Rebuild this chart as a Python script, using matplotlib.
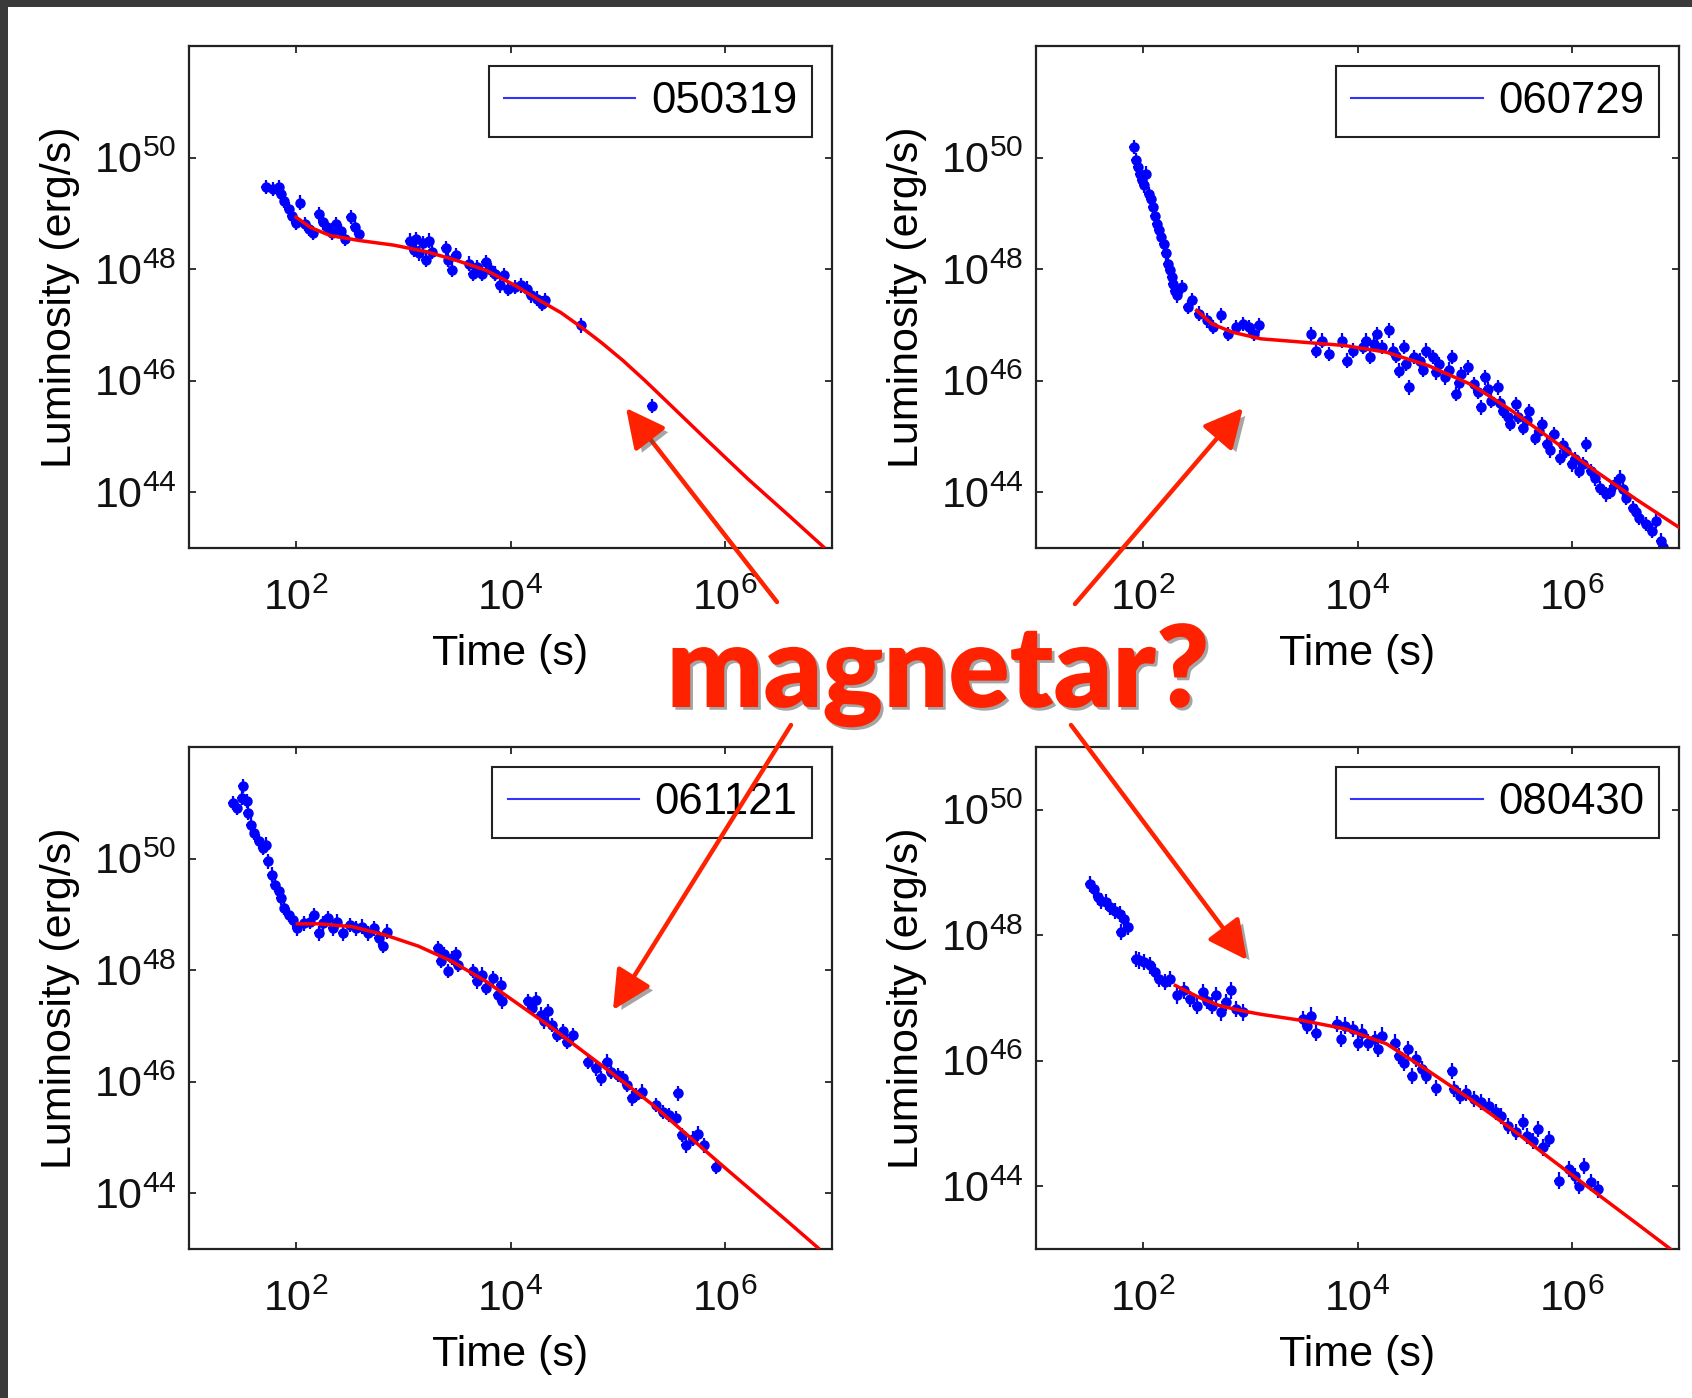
import numpy as np
import matplotlib
matplotlib.use('Agg')
import matplotlib.pyplot as plt
import matplotlib.patheffects as pe
from matplotlib.lines import Line2D
from matplotlib.patches import Rectangle

plt.rcParams['font.family'] = ['Liberation Sans', 'DejaVu Sans']
plt.rcParams['mathtext.default'] = 'regular'

# --- GRB 050319 (log10 t [s], log10 L [erg/s]) ---
logt_050319 = [1.72, 1.78, 1.84, 1.86, 1.89, 1.93, 1.96, 2.00, 2.04, 2.08, 2.12, 2.16, 2.21, 2.25,
               2.29, 2.33, 2.37, 2.42, 2.46, 2.51, 2.55, 2.59,
               3.06, 3.10, 3.12, 3.15, 3.18, 3.21, 3.24, 3.27, 3.40, 3.42, 3.45, 3.49,
               3.61, 3.65, 3.69, 3.73, 3.77, 3.82, 3.86, 3.90, 3.94, 3.98, 4.04, 4.10, 4.15,
               4.19, 4.25, 4.29, 4.32, 4.66, 5.32]
logL_050319 = [49.47, 49.44, 49.47, 49.34, 49.23, 49.08, 48.96, 48.83, 49.19, 48.81, 48.72, 48.65, 48.99, 48.84,
               48.75, 48.65, 48.81, 48.68, 48.54, 48.93, 48.75, 48.63,
               48.51, 48.34, 48.54, 48.28, 48.46, 48.16, 48.51, 48.31, 48.37, 48.16, 47.98, 48.25,
               48.10, 47.92, 48.04, 47.92, 48.13, 47.98, 47.92, 47.71, 47.89, 47.65, 47.68, 47.71, 47.65,
               47.53, 47.47, 47.38, 47.44, 46.99, 45.55]
fit_t_050319 = [2.00, 2.13, 2.32, 2.60, 2.91, 3.22, 3.49, 3.77, 4.04, 4.27, 4.47, 4.66, 4.85, 5.05, 5.25,
                5.44, 5.83, 6.22, 6.61, 6.92]
fit_L_050319 = [48.93, 48.75, 48.60, 48.51, 48.43, 48.31, 48.16, 47.98, 47.71, 47.44, 47.22, 46.96, 46.68,
                46.36, 46.01, 45.66, 44.94, 44.23, 43.56, 43.02]

# --- GRB 060729 ---
logt_060729 = [1.91, 1.93, 1.95, 1.97, 1.99, 2.01, 2.03, 2.05, 2.07, 2.09, 2.11, 2.13, 2.15, 2.17, 2.19, 2.21,
               2.23, 2.25, 2.27, 2.28, 2.30, 2.32, 2.36, 2.42, 2.46,
               2.52, 2.60, 2.65, 2.73, 2.79, 2.87, 2.93, 2.99, 3.03, 3.08,
               3.57, 3.61, 3.67, 3.73, 3.86, 3.90, 3.96, 4.05, 4.08, 4.12, 4.15, 4.18, 4.23, 4.29, 4.33, 4.36,
               4.39, 4.43, 4.45, 4.48, 4.53, 4.58, 4.61, 4.64, 4.70, 4.73, 4.76, 4.82, 4.85, 4.88, 4.92, 4.95,
               4.97, 5.03, 5.09, 5.12, 5.15, 5.19, 5.22, 5.25, 5.31, 5.33, 5.36, 5.40, 5.42, 5.48, 5.50,
               5.54, 5.58, 5.60, 5.66, 5.69, 5.72, 5.77, 5.80, 5.83, 5.89, 5.92, 5.95, 6.00, 6.03, 6.07,
               6.10, 6.13, 6.18, 6.22, 6.26, 6.32, 6.36, 6.40, 6.45, 6.48, 6.51, 6.57, 6.60, 6.63, 6.69,
               6.75, 6.79, 6.83, 6.85]
logL_060729 = [50.19, 49.95, 49.83, 49.70, 49.59, 49.50, 49.71, 49.35, 49.25, 49.11, 48.95, 48.81, 48.70, 48.57,
               48.45, 48.28, 48.10, 47.98, 47.85, 47.74, 47.60, 47.53, 47.68, 47.32, 47.44,
               47.20, 47.08, 46.96, 47.17, 46.84, 46.96, 47.02, 46.96, 46.84, 46.99,
               46.84, 46.54, 46.72, 46.48, 46.72, 46.36, 46.54, 46.60, 46.72, 46.42, 46.66, 46.84, 46.60,
               46.90, 46.54, 46.45,
               46.18, 46.60, 46.30, 45.88, 46.42, 46.36, 46.20, 46.54, 46.42, 46.15, 46.30, 46.06, 46.20,
               46.42, 45.76, 45.95,
               46.12, 46.24, 45.94, 45.80, 45.52, 46.06, 45.85, 45.64, 45.88, 45.60, 45.46, 45.35, 45.22,
               45.58, 45.35,
               45.16, 45.30, 45.46, 44.98, 45.10, 45.22, 44.86, 44.75, 45.04, 44.62, 44.85, 44.74, 44.50,
               44.60, 44.38,
               44.50, 44.86, 44.38, 44.25, 44.08, 43.96, 44.00, 44.14, 44.26, 44.05, 43.90, 43.72, 43.65,
               43.54, 43.43,
               43.31, 43.49, 43.13, 43.01]
fit_t_060729 = [2.50, 2.64, 2.83, 3.10, 3.49, 3.88, 4.27, 4.66, 5.05, 5.25, 5.44, 5.83, 6.22, 6.61, 7.00]
fit_L_060729 = [47.26, 47.02, 46.87, 46.75, 46.69, 46.63, 46.51, 46.27, 45.94, 45.70, 45.46, 44.92, 44.38,
                43.86, 43.37]

# --- GRB 061121 ---
logt_061121 = [1.41, 1.45, 1.49, 1.50, 1.54, 1.55, 1.58, 1.61, 1.65, 1.69, 1.72, 1.74, 1.77, 1.80, 1.84,
               1.86, 1.89, 1.93, 1.97,
               2.01, 2.07, 2.13, 2.17, 2.21, 2.25, 2.30, 2.34, 2.38, 2.44, 2.50, 2.56, 2.61, 2.67, 2.73,
               2.77, 2.81, 2.85,
               3.32, 3.35, 3.38, 3.42, 3.45, 3.49, 3.51, 3.65, 3.69, 3.73, 3.77, 3.84, 3.88, 3.91, 3.92,
               4.16, 4.20, 4.24, 4.28, 4.31, 4.35, 4.39, 4.43, 4.49, 4.53, 4.58,
               4.72, 4.80, 4.84, 4.90, 4.94, 5.00, 5.05, 5.09, 5.13, 5.17, 5.23,
               5.36, 5.42, 5.48, 5.54, 5.56, 5.60, 5.64, 5.70, 5.75, 5.81, 5.92]
logL_061121 = [51.00, 50.91, 51.09, 51.30, 51.03, 50.82, 50.61, 50.46, 50.31, 50.19, 50.25, 49.95, 49.71,
               49.53, 49.41, 49.29, 49.11, 48.99, 48.90,
               48.75, 48.84, 48.87, 48.99, 48.66, 48.84, 48.93, 48.75, 48.87, 48.66, 48.81, 48.75, 48.78,
               48.66, 48.75, 48.57, 48.43, 48.69,
               48.40, 48.16, 48.28, 47.98, 48.22, 48.28, 48.10, 47.98, 47.80, 47.92, 47.68, 47.86, 47.56,
               47.74, 47.44,
               47.44, 47.32, 47.47, 47.20, 47.08, 47.26, 47.02, 46.84, 46.90, 46.72, 46.84,
               46.36, 46.24, 46.06, 46.36, 46.18, 46.12, 46.06, 45.94, 45.70, 45.76, 45.82,
               45.58, 45.46, 45.40, 45.34, 45.79, 45.04, 44.86, 44.98, 45.07, 44.86, 44.47]
fit_t_061121 = [2.01, 2.21, 2.52, 2.83, 3.14, 3.45, 3.77, 4.08, 4.39, 4.70, 5.01, 5.33, 5.64, 5.95, 6.26,
                6.57, 6.87]
fit_L_061121 = [48.83, 48.83, 48.78, 48.63, 48.43, 48.16, 47.80, 47.38, 46.96, 46.51, 46.06, 45.58, 45.06,
                44.54, 44.03, 43.52, 43.02]

# --- GRB 080430 ---
logt_080430 = [1.50, 1.54, 1.58, 1.61, 1.65, 1.69, 1.74, 1.78, 1.79, 1.82, 1.86,
               1.93, 1.96, 2.01, 2.06, 2.11, 2.15, 2.20, 2.25,
               2.32, 2.38, 2.44, 2.50, 2.56, 2.60, 2.64, 2.68, 2.73, 2.77, 2.82, 2.87, 2.93,
               3.49, 3.53, 3.57, 3.61, 3.81, 3.85, 3.88, 3.96, 4.00, 4.04, 4.10, 4.16, 4.19, 4.23,
               4.35, 4.39, 4.43, 4.47, 4.51, 4.55, 4.60, 4.64, 4.73, 4.88, 4.90, 4.96, 5.01, 5.09,
               5.15, 5.23, 5.29, 5.34, 5.40, 5.48, 5.54, 5.58, 5.64, 5.68, 5.73, 5.79,
               5.88, 5.97, 6.03, 6.07, 6.11, 6.18, 6.24]
logL_080430 = [48.82, 48.74, 48.61, 48.55, 48.53, 48.45, 48.39, 48.34, 48.05, 48.26, 48.13,
               47.62, 47.60, 47.57, 47.52, 47.41, 47.30, 47.25, 47.30,
               47.04, 47.12, 46.98, 46.88, 47.09, 46.96, 46.88, 47.04, 46.77, 46.93, 47.12, 46.82, 46.77,
               46.66, 46.56, 46.72, 46.45, 46.59, 46.35, 46.56, 46.51, 46.29, 46.45, 46.29, 46.35, 46.19,
               46.40,
               46.29, 46.08, 45.97, 46.19, 45.76, 46.03, 45.87, 45.76, 45.57, 45.84, 45.55, 45.44, 45.49,
               45.39,
               45.34, 45.28, 45.18, 45.12, 44.96, 44.86, 45.02, 44.80, 44.72, 44.91, 44.62, 44.75,
               44.09, 44.27, 44.16, 44.01, 44.32, 44.06, 43.95]
fit_t_080430 = [2.30, 2.52, 2.71, 2.91, 3.10, 3.49, 3.88, 4.27, 4.66, 5.05, 5.44, 5.83, 6.22, 6.61, 6.92]
fit_L_080430 = [47.20, 47.01, 46.88, 46.80, 46.74, 46.64, 46.51, 46.27, 45.84, 45.39, 44.91, 44.40, 43.90,
                43.40, 43.00]

grb_names = ['050319', '060729', '061121', '080430']
ylim_top = [1e52, 1e52, 1e52, 1e51]

W, H = 1692, 1398
fig = plt.figure(figsize=(W / 100, H / 100), dpi=100, facecolor='#3a3a3a')
fig.add_artist(Rectangle((8 / W, 0), 1 - 8 / W, 1 - 7 / H, transform=fig.transFigure,
                         facecolor='white', edgecolor='none', zorder=-5))

positions = [[189 / W, 1 - 548 / H, 643 / W, 502 / H],
             [1036 / W, 1 - 548 / H, 643 / W, 502 / H],
             [189 / W, 1 - 1249 / H, 643 / W, 502 / H],
             [1036 / W, 1 - 1249 / H, 643 / W, 502 / H]]

datasets = [(logt_050319, logL_050319, fit_t_050319, fit_L_050319),
            (logt_060729, logL_060729, fit_t_060729, fit_L_060729),
            (logt_061121, logL_061121, fit_t_061121, fit_L_061121),
            (logt_080430, logL_080430, fit_t_080430, fit_L_080430)]

fs = 31
for pos, (lt, lL, ft, fL), name, ytop in zip(positions, datasets, grb_names, ylim_top):
    ax = fig.add_axes(pos)
    ax.set_xscale('log')
    ax.set_yscale('log')
    t = 10 ** np.array(lt)
    L = 10 ** np.array(lL)
    ey, ex = 0.13, 0.045
    ax.errorbar(t, L, xerr=[t * (1 - 10 ** -ex), t * (10 ** ex - 1)],
                yerr=[L * (1 - 10 ** -ey), L * (10 ** ey - 1)],
                fmt='o', color='blue', ms=6.5, elinewidth=1.6, capsize=0, zorder=2)
    ax.plot(10 ** np.array(ft), 10 ** np.array(fL), color='red', lw=2.5, zorder=3)
    ax.set_xlim(1e1, 1e7)
    ax.set_ylim(1e43, ytop)
    ax.set_xticks([1e2, 1e4, 1e6])
    ax.set_yticks([1e44, 1e46, 1e48, 1e50])
    ax.minorticks_off()
    ax.tick_params(direction='in', length=5, width=1.2, top=True, right=True,
                   labelsize=fs, pad=9, colors='#111')
    ax.tick_params(axis='x', pad=22)
    for s in ax.spines.values():
        s.set_linewidth(1.6)
        s.set_color('#222')
    ax.set_xlabel('Time (s)', fontsize=fs, labelpad=11)
    ax.set_ylabel('Luminosity (erg/s)', fontsize=fs, labelpad=10)
    leg = ax.legend([Line2D([], [], color='#3333ff', lw=1.5)], [name], loc='upper right',
                    fontsize=31.5, fancybox=False, framealpha=1, edgecolor='#222',
                    handlelength=3.0, handletextpad=0.35, borderpad=0.35, borderaxespad=0.45)
    leg.get_frame().set_linewidth(1.5)

# annotation layer in pixel coordinates
over = fig.add_axes([0, 0, 1, 1], zorder=10)
over.set_xlim(0, W)
over.set_ylim(H, 0)
over.axis('off')

red = '#ff2200'
arrows = [((777, 602), (626, 408)),
          ((1075, 604), (1243, 408)),
          ((791, 725), (613, 1010)),
          ((1071, 725), (1247, 960))]
for tail, tip in arrows:
    a = over.annotate('', xy=tip, xytext=tail,
                      arrowprops=dict(arrowstyle='-|>,head_length=1.0,head_width=0.5',
                                      color=red, lw=3.2, shrinkA=0, shrinkB=0,
                                      mutation_scale=24))
    a.arrow_patch.set_path_effects([pe.SimplePatchShadow(offset=(4, -3), shadow_rgbFace='0.3',
                                                         alpha=0.5), pe.Normal()])

over.text(938, 707, 'magnetar?', color=red, fontsize=82, fontweight='heavy',
          family=['Lato', 'DejaVu Sans'], ha='center', va='baseline',
          path_effects=[pe.SimplePatchShadow(offset=(2, -2), shadow_rgbFace='0.3', alpha=0.5),
                        pe.Normal()])

fig.savefig('out.png', dpi=100, facecolor=fig.get_facecolor())
